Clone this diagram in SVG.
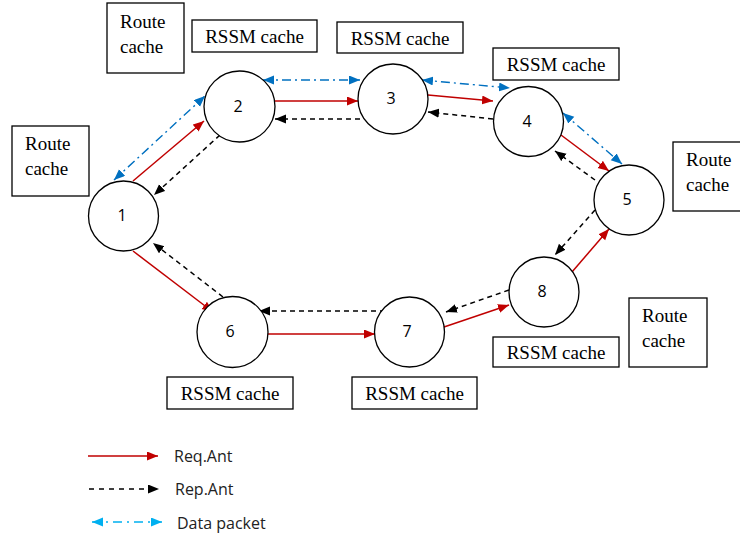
<svg xmlns="http://www.w3.org/2000/svg" width="740" height="537" viewBox="0 0 740 537">
<defs>
<marker id="ar" markerUnits="userSpaceOnUse" markerWidth="12" markerHeight="10" refX="11" refY="4.5" orient="auto-start-reverse"><path d="M0,0 L11,4.5 L0,9 z" fill="#C00000"/></marker>
<marker id="ak" markerUnits="userSpaceOnUse" markerWidth="12" markerHeight="10" refX="11" refY="4.5" orient="auto-start-reverse"><path d="M0,0 L11,4.5 L0,9 z" fill="#000"/></marker>
<marker id="ab" markerUnits="userSpaceOnUse" markerWidth="12" markerHeight="10" refX="11" refY="4.5" orient="auto-start-reverse"><path d="M0,0 L11,4.5 L0,9 z" fill="#0070C0"/></marker>
<marker id="al" markerUnits="userSpaceOnUse" markerWidth="12" markerHeight="10" refX="11" refY="4.5" orient="auto-start-reverse"><path d="M0,0 L11,4.5 L0,9 z" fill="#00B0F0"/></marker>
</defs>
<style>
.n circle{fill:#fff;stroke:#000;stroke-width:1.3}
.n text{font-family:"Open Sans","Noto Sans",sans-serif;font-size:16px;text-anchor:middle;fill:#000}
.box rect{fill:#fff;stroke:#000;stroke-width:1.3}
.box text{font-family:"Liberation Serif","Times New Roman",serif;font-size:19px;fill:#000}
.box text.c{text-anchor:middle}
.req{stroke:#C00000;stroke-width:1.5;fill:none;marker-end:url(#ar)}
.rep{stroke:#000;stroke-width:1.5;fill:none;stroke-dasharray:5,4;marker-end:url(#ak)}
.dat{stroke:#0070C0;stroke-width:1.4;fill:none;stroke-dasharray:9,4,2,4;marker-end:url(#ab);marker-start:url(#ab)}
.leg{font-family:"Open Sans","Noto Sans",sans-serif;font-size:16px;fill:#222}
</style>
<g id="boxes">
<g id="rc-top" class="box"><rect x="107" y="3" width="77" height="70"/><text x="120" y="28">Route</text><text x="120" y="53">cache</text></g>
<g id="rc-left" class="box"><rect x="12" y="126" width="77" height="70"/><text x="25" y="150">Route</text><text x="25" y="175">cache</text></g>
<g id="rc-right" class="box"><rect x="673" y="142" width="72" height="69"/><text x="686" y="166">Route</text><text x="686" y="191">cache</text></g>
<g id="rc-br" class="box"><rect x="629" y="298" width="78" height="69"/><text x="642" y="322">Route</text><text x="642" y="347">cache</text></g>
<g id="rs2" class="box"><rect x="192" y="20" width="125" height="32"/><text class="c" x="254.5" y="43">RSSM cache</text></g>
<g id="rs3" class="box"><rect x="337" y="22" width="126" height="31"/><text class="c" x="400" y="45">RSSM cache</text></g>
<g id="rs4" class="box"><rect x="493" y="48" width="126" height="32"/><text class="c" x="556" y="71">RSSM cache</text></g>
<g id="rs6" class="box"><rect x="167" y="377" width="126" height="32"/><text class="c" x="230" y="400">RSSM cache</text></g>
<g id="rs7" class="box"><rect x="352" y="377" width="125" height="32"/><text class="c" x="414.5" y="400">RSSM cache</text></g>
<g id="rs8" class="box"><rect x="493" y="337" width="126" height="30"/><text class="c" x="556" y="359">RSSM cache</text></g>
</g>
<g id="connectors">
<path class="req" d="M133,181 L204,121"/>
<path class="dat" d="M114,180 L205,96"/>
<path class="rep" d="M220,135 L154,195"/>
<path class="req" d="M275,101 L358,101"/>
<path class="dat" d="M263,80 L360,80"/>
<path class="rep" d="M360,119 L275,119"/>
<path class="req" d="M428,95 L493,101"/>
<path class="dat" d="M422,80 L510,88"/>
<path class="rep" d="M493,119 L428,112"/>
<path class="req" d="M561,135 L609,171"/>
<path class="dat" d="M563,113 L622,164"/>
<path class="rep" d="M595,180 L555,151"/>
<path class="req" d="M572,272 L609,229"/>
<path class="rep" d="M595,210 L555,255"/>
<path class="req" d="M444,327 L509,305"/>
<path class="rep" d="M509,290 L446,312"/>
<path class="req" d="M268,334 L375,334"/>
<path class="rep" d="M385,311 L259,311"/>
<path class="req" d="M133,251 L213,312"/>
<path class="rep" d="M223,297 L153,243"/>
</g>
<g id="n1" class="n"><circle cx="123.5" cy="216" r="35"/><text x="122" y="221">1</text></g>
<g id="n2" class="n"><circle cx="239.5" cy="106.5" r="35.5"/><text x="238" y="111.5">2</text></g>
<g id="n3" class="n"><circle cx="393" cy="99" r="35"/><text x="391" y="104">3</text></g>
<g id="n4" class="n"><circle cx="528.5" cy="121.5" r="35"/><text x="527" y="126.5">4</text></g>
<g id="n5" class="n"><circle cx="629" cy="200" r="35"/><text x="627" y="205">5</text></g>
<g id="n6" class="n"><circle cx="232.5" cy="332" r="35.5"/><text x="230" y="337">6</text></g>
<g id="n7" class="n"><circle cx="409.5" cy="332" r="35"/><text x="407" y="337">7</text></g>
<g id="n8" class="n"><circle cx="544" cy="292" r="35"/><text x="542" y="297">8</text></g>
<g id="legend">
<path d="M88,456 L158,456" stroke="#C00000" stroke-width="1.5" marker-end="url(#ar)"/>
<text class="leg" x="174" y="462">Req.Ant</text>
<path d="M89,489 L159,489" stroke="#000" stroke-width="1.5" stroke-dasharray="5,5" marker-end="url(#ak)"/>
<text class="leg" x="175" y="495">Rep.Ant</text>
<path d="M92,522 L162,522" stroke="#00B0F0" stroke-width="1.5" stroke-dasharray="9,5,2,5" marker-start="url(#al)" marker-end="url(#al)"/>
<text class="leg" x="177" y="529">Data packet</text>
</g>
</svg>
